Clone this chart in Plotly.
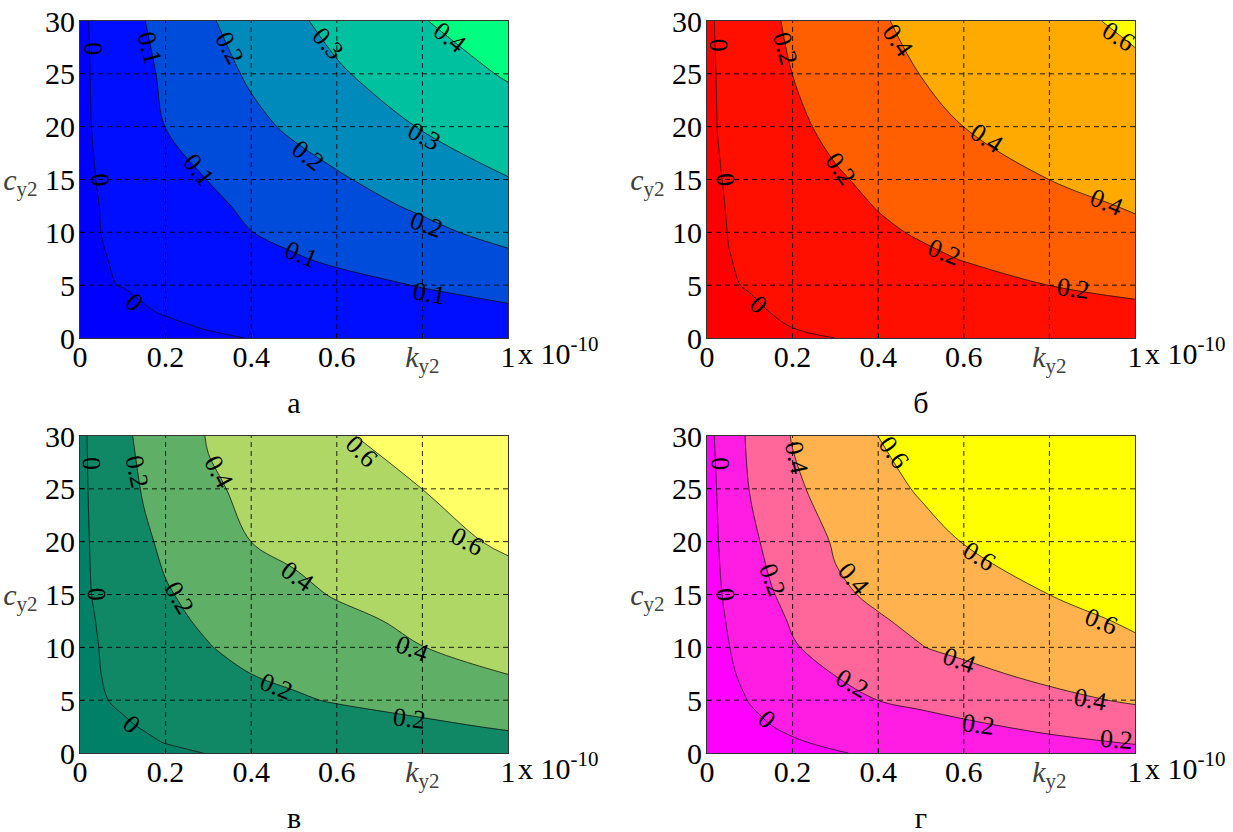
import plotly.graph_objects as go

# grid: k_y2 (x10^-10) and c_y2
K = [0, 0.025, 0.05, 0.1, 0.15, 0.2, 0.3, 0.4, 0.5, 0.6, 0.8, 1.0]
C = [0, 1, 2.5, 5, 7.5, 10, 12.5, 15, 20, 25, 30]

Z_A = [
    [-0.1, -0.09, -0.08, -0.06, -0.045, -0.03, -0.008, 0.0014, 0.006, 0.011, 0.0205, 0.03],
    [-0.08, -0.07, -0.06, -0.04, -0.025, -0.01, 0.0033, 0.01, 0.0167, 0.0233, 0.0367, 0.05],
    [-0.06, -0.05, -0.04, -0.02, -0.004, 0.004, 0.014, 0.024, 0.034, 0.0445, 0.065, 0.085],
    [-0.05, -0.025, -0.0051, 0.002, 0.0093, 0.0167, 0.031, 0.046, 0.0605, 0.075, 0.104, 0.133],
    [-0.04, -0.018, -0.0032, 0.0075, 0.018, 0.029, 0.0505, 0.072, 0.0935, 0.1125, 0.148, 0.184],
    [-0.035, -0.014, 0.0005, 0.014, 0.0286, 0.043, 0.071, 0.099, 0.1205, 0.141, 0.182, 0.224],
    [-0.03, -0.012, 0.003, 0.0225, 0.042, 0.061, 0.085, 0.1135, 0.142, 0.170, 0.211, 0.26],
    [-0.025, -0.006, 0.0065, 0.030, 0.050, 0.068, 0.1015, 0.137, 0.163, 0.190, 0.245, 0.297],
    [-0.022, -0.001, 0.0135, 0.043, 0.072, 0.101, 0.140, 0.179, 0.214, 0.245, 0.305, 0.352],
    [-0.02, 0.0013, 0.018, 0.051, 0.084, 0.113, 0.164, 0.212, 0.251, 0.290, 0.350, 0.409],
    [-0.02, 0.0045, 0.023, 0.061, 0.0985, 0.129, 0.191, 0.240, 0.286, 0.325, 0.395, 0.466],
]

Z_B = [
    [-0.13, -0.115, -0.1, -0.075, -0.05, -0.03, 0.0005, 0.0118, 0.023, 0.0345, 0.057, 0.08],
    [-0.11, -0.09, -0.07, -0.04, -0.018, 0.001, 0.015, 0.03, 0.045, 0.06, 0.09, 0.12],
    [-0.09, -0.07, -0.05, -0.015, 0.002, 0.0115, 0.031, 0.05, 0.069, 0.088, 0.127, 0.165],
    [-0.07, -0.035, -0.0076, 0.006, 0.02, 0.034, 0.062, 0.09, 0.118, 0.146, 0.201, 0.24],
    [-0.06, -0.024, -0.003, 0.016, 0.0355, 0.055, 0.093, 0.132, 0.1705, 0.206, 0.2555, 0.305],
    [-0.055, -0.02, 0.0025, 0.027, 0.052, 0.0765, 0.126, 0.175, 0.215, 0.245, 0.305, 0.365],
    [-0.05, -0.016, 0.0076, 0.0367, 0.066, 0.095, 0.153, 0.207, 0.242, 0.277, 0.347, 0.415],
    [-0.045, -0.009, 0.013, 0.047, 0.0815, 0.116, 0.184, 0.232, 0.274, 0.316, 0.4005, 0.45],
    [-0.04, 0.002, 0.0257, 0.0733, 0.121, 0.1685, 0.2365, 0.291, 0.3455, 0.4005, 0.46, 0.52],
    [-0.035, 0.0067, 0.0346, 0.0905, 0.146, 0.201, 0.270, 0.338, 0.403, 0.437, 0.503, 0.57],
    [-0.03, 0.0144, 0.047, 0.112, 0.178, 0.2265, 0.307, 0.387, 0.433, 0.473, 0.553, 0.63],
]

Z_C = [
    [-0.13, -0.115, -0.1, -0.07, -0.045, -0.022, 0.0033, 0.017, 0.031, 0.0447, 0.072, 0.1],
    [-0.11, -0.09, -0.07, -0.04, -0.015, 0.0028, 0.021, 0.0396, 0.058, 0.0764, 0.113, 0.15],
    [-0.09, -0.07, -0.05, -0.012, 0.006, 0.0186, 0.043, 0.068, 0.093, 0.118, 0.167, 0.217],
    [-0.07, -0.035, -0.0066, 0.014, 0.035, 0.0555, 0.097, 0.138, 0.18, 0.213, 0.264, 0.315],
    [-0.06, -0.028, 0.0005, 0.0286, 0.057, 0.0857, 0.143, 0.2005, 0.2337, 0.267, 0.335, 0.402],
    [-0.055, -0.021, 0.0068, 0.044, 0.082, 0.12, 0.195, 0.237, 0.2776, 0.318, 0.398, 0.452],
    [-0.05, -0.012, 0.015, 0.059, 0.103, 0.172, 0.2186, 0.265, 0.312, 0.3585, 0.4355, 0.50],
    [-0.045, -0.002, 0.024, 0.0756, 0.127, 0.188, 0.2465, 0.3046, 0.363, 0.412, 0.4786, 0.545],
    [-0.04, 0.0055, 0.04, 0.108, 0.177, 0.228, 0.314, 0.4005, 0.4385, 0.477, 0.554, 0.62],
    [-0.035, 0.012, 0.054, 0.139, 0.2136, 0.262, 0.382, 0.425, 0.469, 0.513, 0.6005, 0.673],
    [-0.035, 0.018, 0.067, 0.166, 0.2395, 0.2995, 0.409, 0.468, 0.526, 0.585, 0.654, 0.716],
]

Z_D = [
    [-0.14, -0.125, -0.11, -0.08, -0.055, -0.035, -0.007, 0.0163, 0.0386, 0.061, 0.1055, 0.15],
    [-0.12, -0.1, -0.08, -0.05, -0.028, -0.01, 0.018, 0.0464, 0.0748, 0.103, 0.160, 0.211],
    [-0.1, -0.08, -0.06, -0.025, -0.002, 0.017, 0.0547, 0.0924, 0.130, 0.168, 0.2365, 0.30],
    [-0.085, -0.06, -0.035, 0.0046, 0.0375, 0.0704, 0.136, 0.201, 0.240, 0.279, 0.357, 0.42],
    [-0.075, -0.045, -0.015, 0.0275, 0.073, 0.119, 0.206, 0.259, 0.311, 0.363, 0.439, 0.50],
    [-0.065, -0.033, -0.004, 0.056, 0.117, 0.1875, 0.257, 0.326, 0.396, 0.433, 0.504, 0.575],
    [-0.06, -0.025, 0.0088, 0.0824, 0.156, 0.216, 0.296, 0.388, 0.428, 0.468, 0.548, 0.62],
    [-0.055, -0.015, 0.022, 0.106, 0.190, 0.2454, 0.378, 0.422, 0.4667, 0.511, 0.6005, 0.65],
    [-0.05, -0.004, 0.051, 0.162, 0.2415, 0.3044, 0.4154, 0.4795, 0.5436, 0.605, 0.66, 0.70],
    [-0.045, 0.0054, 0.073, 0.205, 0.2876, 0.370, 0.466, 0.546, 0.6165, 0.645, 0.70, 0.74],
    [-0.04, 0.0185, 0.095, 0.230, 0.3245, 0.4095, 0.505, 0.6005, 0.64, 0.67, 0.72, 0.76],
]

# contour-label placements: (k, c, text, rotation)
LABELS_A = [
    (0.031, 27.4, "0", 88), (0.047, 15.0, "0", 86), (0.128, 3.4, "0", 42),
    (0.163, 27.4, "0.1", 75), (0.276, 15.9, "0.1", 52), (0.518, 7.9, "0.1", 22), (0.817, 4.25, "0.1", 10),
    (0.350, 27.4, "0.2", 62), (0.533, 17.3, "0.2", 38), (0.809, 10.7, "0.2", 20),
    (0.580, 27.9, "0.3", 48), (0.805, 19.1, "0.3", 28),
    (0.864, 28.4, "0.4", 38),
]
LABELS_B = [
    (0.027, 27.7, "0", 88), (0.043, 15.0, "0", 86), (0.120, 3.15, "0", 42),
    (0.183, 27.4, "0.2", 75), (0.311, 16.0, "0.2", 55), (0.556, 8.1, "0.2", 22), (0.856, 4.66, "0.2", 8),
    (0.447, 28.2, "0.4", 55), (0.654, 18.85, "0.4", 33), (0.934, 12.8, "0.4", 22),
    (0.961, 28.5, "0.6", 32),
]
LABELS_C = [
    (0.027, 27.4, "0", 88), (0.039, 15.0, "0", 87), (0.121, 2.7, "0", 42),
    (0.132, 26.6, "0.2", 78), (0.233, 14.65, "0.2", 60), (0.459, 6.3, "0.2", 22), (0.770, 3.3, "0.2", 7),
    (0.323, 26.6, "0.4", 62), (0.508, 16.7, "0.4", 35), (0.776, 9.9, "0.4", 20),
    (0.658, 28.5, "0.6", 45), (0.905, 20.0, "0.6", 28),
]
LABELS_D = [
    (0.031, 27.4, "0", 88), (0.043, 15.0, "0", 86), (0.140, 3.15, "0", 42),
    (0.152, 16.4, "0.2", 70), (0.339, 6.6, "0.2", 30), (0.634, 2.7, "0.2", 8), (0.957, 1.26, "0.2", 4),
    (0.210, 27.9, "0.4", 78), (0.342, 16.5, "0.4", 50), (0.591, 8.8, "0.4", 20), (0.895, 5.1, "0.4", 10),
    (0.436, 28.4, "0.6", 55), (0.637, 18.6, "0.6", 32), (0.922, 12.45, "0.6", 22),
]

PANELS = [
    # (z, level step, last level, band colours [below 0, ..., top], caption, labels)
    (Z_A, 0.1, 0.4, ["#0000FF", "#000EFF", "#004CDA", "#0089BB", "#00C19F", "#00FF80"], "а", LABELS_A),
    (Z_B, 0.2, 0.6, ["#FF0000", "#FF0F00", "#FF5F00", "#FFAA00", "#FFFF00"], "б", LABELS_B),
    (Z_C, 0.2, 0.6, ["#008066", "#108866", "#5FAF66", "#AFD766", "#FFFF66"], "в", LABELS_C),
    (Z_D, 0.2, 0.6, ["#FF00FF", "#FF1CE3", "#FF6699", "#FFB24D", "#FFFF00"], "г", LABELS_D),
]

X_TICKS = [0, 0.2, 0.4, 0.6, 0.8, 1]
X_TEXT = ["0", "0.2", "0.4", "0.6", "<span style='color:#404040'><i>k</i><sub>y2</sub></span>", "1"]
Y_TICKS = [0, 5, 10, 15, 20, 25, 30]
Y_TEXT = ["0", "5", "10", "<span style='color:#404040'><i>c</i><sub>y2</sub></span> 15", "20", "25", "30"]
GRID_X = [0.2, 0.4, 0.6, 0.8]
GRID_Y = [5, 10, 15, 20, 25]

W, H = 1233, 832
# panel pixel boxes (left, right, top, bottom)
BOXES = [(80, 508, 21, 338), (707, 1135, 21, 338), (80, 508, 436, 753), (707, 1135, 436, 753)]

FONT = "Liberation Serif, Times New Roman, serif"
TICK_SIZE = 30

fig = go.Figure()
layout = dict(
    template="none",
    width=W, height=H, autosize=False,
    margin=dict(l=0, r=0, t=0, b=0, pad=0, autoexpand=False),
    paper_bgcolor="white", plot_bgcolor="rgba(0,0,0,0)", showlegend=False,
    font=dict(family=FONT, size=TICK_SIZE, color="black"),
)
shapes = []
annotations = []
cap_x, cap_y, cap_t = [], [], []

for i, ((z, step, last, cols, cap, labels), (l, r, t, b)) in enumerate(zip(PANELS, BOXES)):
    n = i + 1
    xa = "x" if n == 1 else f"x{n}"
    ya = "y" if n == 1 else f"y{n}"
    k = len(cols) - 1
    cs = [[j / k, c] for j, c in enumerate(cols)]
    fig.add_trace(go.Contour(
        x=K, y=C, z=z, xaxis=xa, yaxis=ya,
        autocontour=False,
        contours=dict(start=0, end=last, size=step, coloring="fill", showlabels=False),
        colorscale=cs, showscale=False,
        line=dict(color="black", width=0.7, smoothing=1.0),
        hoverinfo="skip",
    ))
    axx = dict(domain=[l / W, r / W], range=[0, 1], anchor=ya, automargin=False,
               tickvals=X_TICKS, ticktext=X_TEXT, ticks="inside", ticklen=4,
               tickcolor="black", showgrid=False, zeroline=False,
               showline=True, mirror=True, linecolor="#333333", linewidth=1,
               ticklabelstandoff=-8,
               tickfont=dict(family=FONT, size=TICK_SIZE, color="black"))
    axy = dict(domain=[1 - b / H, 1 - t / H], range=[0, 30], anchor=xa, automargin=False,
               tickvals=Y_TICKS, ticktext=Y_TEXT, ticks="inside", ticklen=4,
               tickcolor="black", showgrid=False, zeroline=False,
               showline=True, mirror=True, linecolor="#333333", linewidth=1,
               ticklabelstandoff=-2,
               tickfont=dict(family=FONT, size=TICK_SIZE, color="black"))
    layout["xaxis" if n == 1 else f"xaxis{n}"] = axx
    layout["yaxis" if n == 1 else f"yaxis{n}"] = axy
    for gx in GRID_X:
        shapes.append(dict(type="line", xref=xa, yref=ya, x0=gx, x1=gx, y0=0, y1=30,
                           line=dict(color="rgba(0,0,0,0.85)", width=1, dash="5px,4px"),
                           layer="above"))
    for gy in GRID_Y:
        shapes.append(dict(type="line", xref=xa, yref=ya, x0=0, x1=1, y0=gy, y1=gy,
                           line=dict(color="rgba(0,0,0,0.85)", width=1, dash="5px,4px"),
                           layer="above"))
    for (lx, ly, txt, ang) in labels:
        annotations.append(dict(xref=xa, yref=ya, x=lx, y=ly, text=txt, textangle=ang,
                                showarrow=False, xanchor="center", yanchor="middle",
                                font=dict(family=FONT, size=26, color="black")))
    annotations.append(dict(xref="paper", yref="paper", x=(r + 8) / W, y=1 - (b + 13) / H,
                            xanchor="left", yanchor="middle", showarrow=False,
                            text="x 10<sup>-10</sup>", font=dict(family=FONT, size=TICK_SIZE)))
    cap_x.append((l + r) / 2 / W)
    cap_y.append(1 - (b + 67) / H)
    cap_t.append(cap)

# captions drawn as text on a full-page overlay axis pair
fig.add_trace(go.Scatter(
    x=cap_x, y=cap_y, text=cap_t, mode="text", textposition="middle center",
    textfont=dict(family=FONT, size=TICK_SIZE, color="black"),
    xaxis="x5", yaxis="y5", cliponaxis=False, hoverinfo="skip",
))
layout["xaxis5"] = dict(domain=[0, 1], range=[0, 1], anchor="y5", visible=False,
                        fixedrange=True, automargin=False)
layout["yaxis5"] = dict(domain=[0, 1], range=[0, 1], anchor="x5", visible=False,
                        fixedrange=True, automargin=False)

layout["shapes"] = shapes
layout["annotations"] = annotations
fig.update_layout(**layout)
fig.write_html("out.html")
